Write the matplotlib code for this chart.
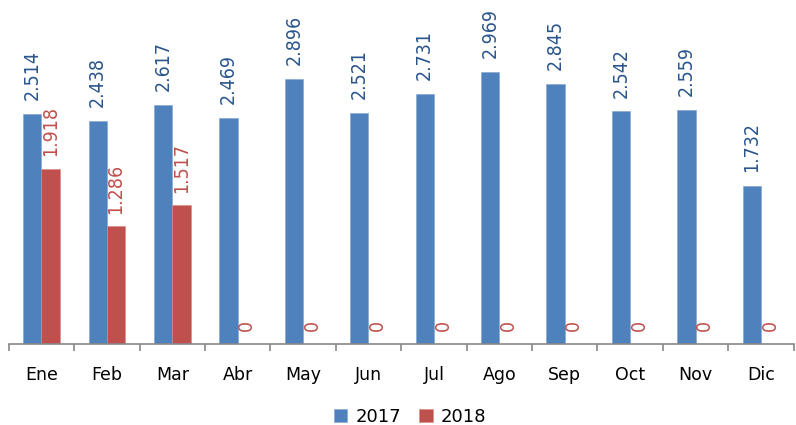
import matplotlib
matplotlib.use("Agg")
import matplotlib.pyplot as plt
from matplotlib import font_manager
import numpy as np

months = ["Ene", "Feb", "Mar", "Abr", "May", "Jun", "Jul", "Ago", "Sep", "Oct", "Nov", "Dic"]
v2017 = [2514, 2438, 2617, 2469, 2896, 2521, 2731, 2969, 2845, 2542, 2559, 1732]
v2018 = [1918, 1286, 1517, 0, 0, 0, 0, 0, 0, 0, 0, 0]

def fmt(v):
    return f"{v:,}".replace(",", ".")

cond = any(f.name == "DejaVu Sans" and str(f.stretch) in ("condensed", "semi-condensed", "400", "500")
           for f in font_manager.fontManager.ttflist if "Condensed" in f.fname)
if cond:
    lab_kw = dict(family="DejaVu Sans", fontstretch="condensed", fontsize=14)
else:
    lab_kw = dict(family="DejaVu Sans", fontsize=13)

blue = "#4F81BD"
red = "#C0504D"
blue_txt = "#2A558C"

fig = plt.figure(figsize=(7.96, 4.25), dpi=100)
ax = fig.add_axes([0.011, 0.1906, 0.986, 0.8094])
x = np.arange(len(months))
w = 0.28
b1 = ax.bar(x - w / 2, v2017, w, color=blue, edgecolor="#7FA3D0", linewidth=0.4, label="2017")
b2 = ax.bar(x + w / 2, v2018, w, color=red, edgecolor="#D88A88", linewidth=0.4, label="2018")

for xi, v in zip(x - w / 2, v2017):
    ax.annotate(fmt(v), (xi, v), xytext=(0, 10), textcoords="offset points",
                rotation=90, ha="center", va="bottom", color=blue_txt, **lab_kw)
for xi, v in zip(x + w / 2, v2018):
    ax.annotate(fmt(v), (xi, v), xytext=(0, 9), textcoords="offset points",
                rotation=90, ha="center", va="bottom", color=red, **lab_kw)

ax.set_xlim(-0.5, len(months) - 0.5)
ax.set_ylim(0, 3760)
for s in ["top", "right", "left"]:
    ax.spines[s].set_visible(False)
ax.spines["bottom"].set_color("#888888")
ax.spines["bottom"].set_linewidth(1.2)
ax.set_yticks([])
ax.set_xticks(np.arange(-0.5, len(months), 1.0))
ax.set_xticklabels([])
ax.tick_params(axis="x", which="major", length=5, color="#888888", width=1.2)
ax.set_xticks(x, minor=True)
ax.set_xticklabels(months, minor=True, fontsize=12.5)
ax.tick_params(axis="x", which="minor", length=0, pad=16)

fig.legend(handles=[b1, b2], labels=["2017", "2018"], loc="center",
           bbox_to_anchor=(0.515, 0.02), ncol=2, frameon=False, fontsize=13,
           handlelength=0.75, handleheight=0.75, columnspacing=1.0, handletextpad=0.45)

fig.savefig("out.png", dpi=100)
